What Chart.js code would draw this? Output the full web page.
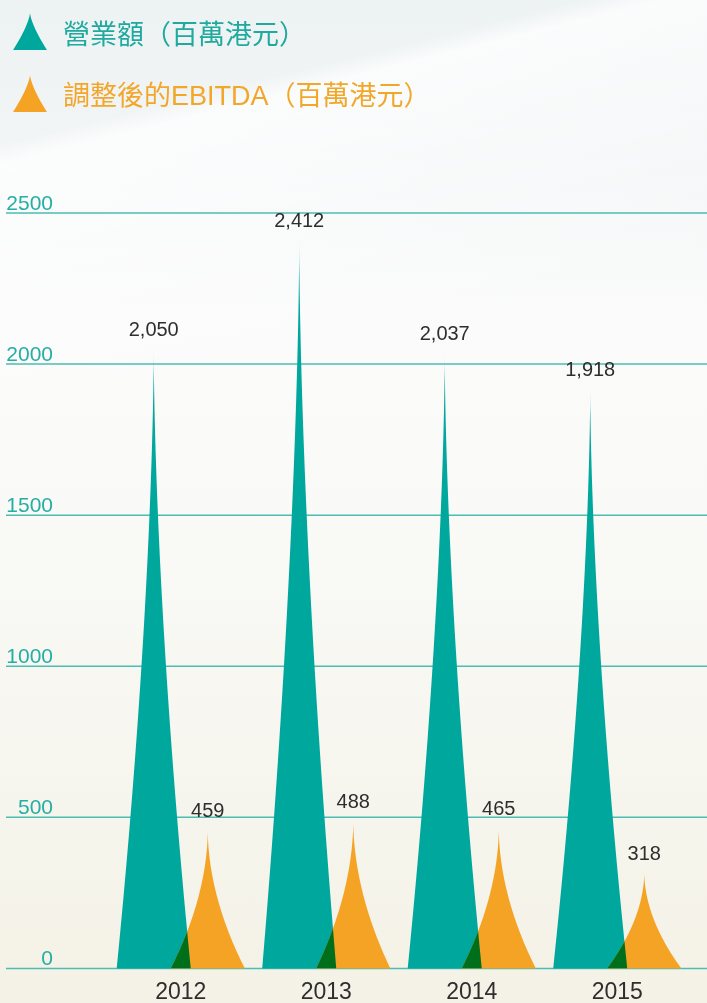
<!DOCTYPE html>
<html>
<head>
<meta charset="utf-8">
<script src="https://cdn.jsdelivr.net/npm/chart.js@4.4.1/dist/chart.umd.min.js"></script>
<style>
  html, body { margin: 0; padding: 0; width: 707px; height: 1003px; overflow: hidden; }
  body {
    position: relative;
    background:
      linear-gradient(166deg, rgba(255,255,255,0) 0px, rgba(255,255,255,0) 140px, rgba(255,255,255,0.75) 160px, rgba(255,255,255,0) 430px),
      linear-gradient(180deg, #edf2f3 0px, #f2f5f6 150px, #fbfbfb 320px, #f9f9f6 560px, #f4f2e6 1003px);
  }
  #wrap { position: absolute; left: 0; top: 0; width: 707px; height: 1016px; }
  .legend { position: absolute; left: 0; top: 0; font-family: "Liberation Sans", "Noto Sans CJK TC", sans-serif; font-size: 27px; line-height: 27px; white-space: nowrap; }
  .legend canvas { position: absolute; left: 13px; }
  .legend span { position: absolute; left: 63px; }
</style>
</head>
<body>
<div id="wrap"><canvas id="revenueChart"></canvas></div>
<div class="legend" style="color:#20a99e">
  <canvas id="iconTeal" width="34" height="38" style="top:13px"></canvas>
  <span style="top:22px">營業額（百萬港元）</span>
</div>
<div class="legend" style="color:#f3a72a">
  <canvas id="iconOrange" width="34" height="38" style="top:75px"></canvas>
  <span style="top:83px">調整後的EBITDA（百萬港元）</span>
</div>
<script>
// Data
const years = ["2012", "2013", "2014", "2015"];
const revenue = [2050, 2412, 2037, 1918];
const ebitda = [459, 488, 465, 318];
const yTicks = [0, 500, 1000, 1500, 2000, 2500];

const TEAL = "#00a79d";
const ORANGE = "#f4a324";
const OVERLAP = "#006f1c";

// concave spike path, sides follow (1-t)^k
function spikePath(ctx, cx, base, tip, halfW, k) {
  const n = 60;
  const h = base - tip;
  ctx.beginPath();
  ctx.moveTo(cx - halfW, base);
  for (let s = 1; s <= n; s++) {
    const t = s / n;
    ctx.lineTo(cx - halfW * Math.pow(1 - t, k), base - t * h);
  }
  for (let s = n - 1; s >= 0; s--) {
    const t = s / n;
    ctx.lineTo(cx + halfW * Math.pow(1 - t, k), base - t * h);
  }
  ctx.closePath();
}

function drawIcon(id, color) {
  const c = document.getElementById(id);
  const ctx = c.getContext("2d");
  ctx.fillStyle = color;
  spikePath(ctx, 17, 37, 0, 17, 1.4);
  ctx.fill();
}
drawIcon("iconTeal", TEAL);
drawIcon("iconOrange", ORANGE);

const spikePlugin = {
  id: "spikes",
  beforeDatasetsDraw(chart) {
    const ctx = chart.ctx;
    const y = chart.scales.y;
    ctx.save();
    ctx.strokeStyle = "#4cbdb2";
    ctx.lineWidth = 1.5;
    ctx.fillStyle = "#26aea3";
    ctx.font = "21px 'Liberation Sans', Arial, sans-serif";
    ctx.textAlign = "right";
    ctx.textBaseline = "alphabetic";
    yTicks.forEach(v => {
      const py = y.getPixelForValue(v);
      ctx.beginPath();
      ctx.moveTo(6, py);
      ctx.lineTo(chart.width, py);
      ctx.stroke();
      ctx.fillText(String(v), 53, py - 3);
    });
    ctx.restore();
  },
  afterDatasetsDraw(chart) {
    const ctx = chart.ctx;
    const teal = chart.getDatasetMeta(0).data;
    const orange = chart.getDatasetMeta(1).data;
    ctx.save();
    // revenue spikes with faded tips
    teal.forEach(bar => {
      const g = ctx.createLinearGradient(0, bar.base, 0, bar.y);
      g.addColorStop(0, TEAL);
      g.addColorStop(0.95, TEAL);
      g.addColorStop(1, "rgba(0,167,157,0.45)");
      ctx.fillStyle = g;
      spikePath(ctx, bar.x, bar.base, bar.y, bar.width / 2, 1.65);
      ctx.fill();
    });
    orange.forEach(bar => {
      ctx.fillStyle = ORANGE;
      spikePath(ctx, bar.x, bar.base, bar.y, bar.width / 2, 1.9);
      ctx.fill();
    });
    // overlap of the two shapes
    orange.forEach((bar, i) => {
      const t = teal[i];
      ctx.save();
      spikePath(ctx, t.x, t.base, t.y, t.width / 2, 1.65);
      ctx.clip();
      ctx.fillStyle = OVERLAP;
      spikePath(ctx, bar.x, bar.base, bar.y, bar.width / 2, 1.9);
      ctx.fill();
      ctx.restore();
    });
    // value labels
    ctx.fillStyle = "#2e2e2e";
    ctx.font = "20px 'Liberation Sans', Arial, sans-serif";
    ctx.textAlign = "center";
    ctx.textBaseline = "middle";
    [teal, orange].forEach((bars, d) => {
      const vals = d === 0 ? revenue : ebitda;
      bars.forEach((bar, i) => {
        ctx.fillText(vals[i].toLocaleString("en-US"), bar.x, bar.y - 18);
      });
    });
    ctx.restore();
  }
};

new Chart(document.getElementById("revenueChart"), {
  type: "bar",
  data: {
    labels: years,
    datasets: [
      { label: "營業額（百萬港元）", data: revenue, backgroundColor: "rgba(0,0,0,0)", borderWidth: 0 },
      { label: "調整後的EBITDA（百萬港元）", data: ebitda, backgroundColor: "rgba(0,0,0,0)", borderWidth: 0 }
    ]
  },
  options: {
    responsive: true,
    maintainAspectRatio: false,
    animation: false,
    categoryPercentage: 0.743,
    barPercentage: 1.37,
    layout: { padding: { left: 108, right: 17, top: 213, bottom: 0 } },
    plugins: { legend: { display: false }, tooltip: { enabled: false } },
    scales: {
      x: {
        grid: { display: false, drawTicks: false },
        border: { display: false },
        ticks: { color: "#2e2e2e", font: { family: "'Liberation Sans', Arial, sans-serif", size: 23 }, padding: 10 }
      },
      y: { display: false, min: 0, max: 2500 }
    }
  },
  plugins: [spikePlugin]
});
</script>
</body>
</html>
